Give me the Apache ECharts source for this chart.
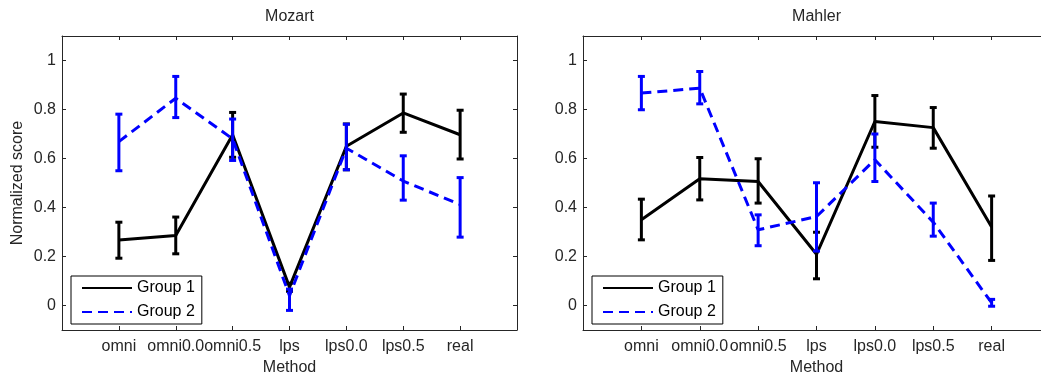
<!DOCTYPE html>
<html>
<head>
<meta charset="utf-8">
<script src="https://cdn.jsdelivr.net/npm/echarts@6/dist/echarts.min.js"></script>
<style>
html,body{margin:0;padding:0;background:#fff;}
#chart{width:1041px;height:372px;}
</style>
</head>
<body>
<div id="chart"></div>
<script>
// ---------- data ----------
const categories = ['omni', 'omni0.0', 'omni0.5', 'lps', 'lps0.0', 'lps0.5', 'real'];
const categoryPositions = [1, 2, 3, 4, 5, 6, 7];
const yTickValues = [0, 0.2, 0.4, 0.6, 0.8, 1];
const panelTitles = ['Mozart', 'Mahler'];
const seriesNames = ['Group 1', 'Group 2'];

const mozartG1Mean = [0.267, 0.286, 0.697, 0.075, 0.650, 0.786, 0.697];
const mozartG1Low  = [0.193, 0.211, 0.605, 0.058, 0.554, 0.707, 0.598];
const mozartG1High = [0.340, 0.361, 0.788, 0.091, 0.741, 0.863, 0.797];
const mozartG2Mean = [0.669, 0.846, 0.680, 0.040, 0.642, 0.508, 0.412];
const mozartG2Low  = [0.550, 0.767, 0.592, -0.020, 0.554, 0.430, 0.279];
const mozartG2High = [0.781, 0.935, 0.761, 0.067, 0.740, 0.611, 0.522];

const mahlerG1Mean = [0.350, 0.517, 0.506, 0.209, 0.751, 0.726, 0.320];
const mahlerG1Low  = [0.268, 0.431, 0.418, 0.109, 0.646, 0.642, 0.184];
const mahlerG1High = [0.434, 0.604, 0.599, 0.299, 0.857, 0.808, 0.447];
const mahlerG2Mean = [0.867, 0.887, 0.309, 0.363, 0.595, 0.340, 0.011];
const mahlerG2Low  = [0.799, 0.823, 0.244, 0.222, 0.506, 0.283, -0.003];
const mahlerG2High = [0.935, 0.955, 0.370, 0.501, 0.700, 0.418, 0.025];

// ---------- helpers ----------
const FONT = '"Liberation Sans", Arial, Helvetica, sans-serif';
const AXIS_COLOR = '#262626';
const COLORS = ['#000000', '#0000ff'];

function pairs(means) { return categoryPositions.map((x, i) => [x, means[i]]); }
function bars(lows, highs) { return categoryPositions.map((x, i) => [x, lows[i], highs[i]]); }

function renderErrorBar(color) {
  return function (params, api) {
    const x = api.value(0);
    const top = api.coord([x, api.value(2)]);
    const bot = api.coord([x, api.value(1)]);
    const cap = 3.5;
    const style = { stroke: color, lineWidth: 3 };
    return {
      type: 'group',
      children: [
        { type: 'line', shape: { x1: top[0], y1: top[1], x2: bot[0], y2: bot[1] }, style: style },
        { type: 'line', shape: { x1: top[0] - cap, y1: top[1], x2: top[0] + cap, y2: top[1] }, style: style },
        { type: 'line', shape: { x1: bot[0] - cap, y1: bot[1], x2: bot[0] + cap, y2: bot[1] }, style: style }
      ]
    };
  };
}

const grids = [
  { left: 62, top: 36, width: 455, height: 294, containLabel: false, outerBoundsMode: 'none' },
  { left: 583, top: 36, width: 467, height: 294, containLabel: false, outerBoundsMode: 'none' }
];

const lineStyleAxis = { color: AXIS_COLOR, width: 1 };
const xAxes = [];
const yAxes = [];
grids.forEach((g, gi) => {
  xAxes.push({
    type: 'value', gridIndex: gi, position: 'bottom', min: 0, max: 8,
    name: 'Method', nameLocation: 'middle', nameGap: 27,
    nameTextStyle: { fontFamily: FONT, fontSize: 16, color: '#262626' },
    axisLine: { show: true, onZero: false, lineStyle: lineStyleAxis },
    axisTick: { show: true, inside: true, length: 4, customValues: categoryPositions, lineStyle: { color: AXIS_COLOR } },
    axisLabel: { customValues: categoryPositions, formatter: v => categories[Math.round(v) - 1] || '', fontFamily: FONT, fontSize: 16, color: '#262626', margin: 9 },
    splitLine: { show: false }
  });
  xAxes.push({
    type: 'value', gridIndex: gi, position: 'top', min: 0, max: 8,
    axisLine: { show: true, onZero: false, lineStyle: lineStyleAxis },
    axisTick: { show: true, inside: true, length: 4, customValues: categoryPositions, lineStyle: { color: AXIS_COLOR } },
    axisLabel: { show: false },
    splitLine: { show: false }
  });
  yAxes.push({
    type: 'value', gridIndex: gi, position: 'left', min: -0.1, max: 1.1,
    name: gi === 0 ? 'Normalized score' : '', nameLocation: 'middle', nameGap: 36,
    nameTextStyle: { fontFamily: FONT, fontSize: 16, color: '#262626' },
    axisLine: { show: true, onZero: false, lineStyle: lineStyleAxis },
    axisTick: { show: true, inside: true, length: 4, customValues: yTickValues, lineStyle: { color: AXIS_COLOR } },
    axisLabel: { customValues: yTickValues, fontFamily: FONT, fontSize: 16, color: '#262626', margin: 6 },
    splitLine: { show: false }
  });
  yAxes.push({
    type: 'value', gridIndex: gi, position: 'right', min: -0.1, max: 1.1,
    axisLine: { show: true, onZero: false, lineStyle: lineStyleAxis },
    axisTick: { show: true, inside: true, length: 4, customValues: yTickValues, lineStyle: { color: AXIS_COLOR } },
    axisLabel: { show: false },
    splitLine: { show: false }
  });
});

const panels = [
  { g1: [mozartG1Mean, mozartG1Low, mozartG1High], g2: [mozartG2Mean, mozartG2Low, mozartG2High] },
  { g1: [mahlerG1Mean, mahlerG1Low, mahlerG1High], g2: [mahlerG2Mean, mahlerG2Low, mahlerG2High] }
];

const series = [];
panels.forEach((p, pi) => {
  [p.g1, p.g2].forEach((grp, gi) => {
    const color = COLORS[gi];
    series.push({
      name: seriesNames[gi], type: 'line', xAxisIndex: pi * 2, yAxisIndex: pi * 2,
      data: pairs(grp[0]), symbol: 'none', z: 2 + gi, animation: false,
      lineStyle: { color: color, width: 3, type: gi === 0 ? 'solid' : [10, 6] },
      itemStyle: { color: color }
    });
    series.push({
      name: seriesNames[gi] + ' err', type: 'custom', xAxisIndex: pi * 2, yAxisIndex: pi * 2,
      data: bars(grp[1], grp[2]), encode: { x: 0, y: [1, 2] }, z: 2 + gi, animation: false,
      renderItem: renderErrorBar(color)
    });
  });
});

const chart = echarts.init(document.getElementById('chart'), null, { renderer: 'canvas' });
chart.setOption({
  animation: false,
  backgroundColor: '#ffffff',
  title: panelTitles.map((t, i) => ({
    text: t, left: grids[i].left + grids[i].width / 2, top: 9, textAlign: 'center', padding: 0,
    textStyle: { fontFamily: FONT, fontSize: 16, fontWeight: 'normal', color: '#262626' }
  })),
  grid: grids,
  xAxis: xAxes,
  yAxis: yAxes,
  legend: grids.map(g => ({
    data: seriesNames, orient: 'vertical', left: g.left + 9, top: 276,
    itemWidth: 50, itemHeight: 14, itemGap: 8,
    padding: [4, 7, 4, 10],
    borderColor: '#000', borderWidth: 1, backgroundColor: '#fff',
    selectedMode: false,
    itemStyle: { opacity: 0 },
    textStyle: { fontFamily: FONT, fontSize: 16, color: '#000' }
  })),
  series: series
});
</script>
</body>
</html>
